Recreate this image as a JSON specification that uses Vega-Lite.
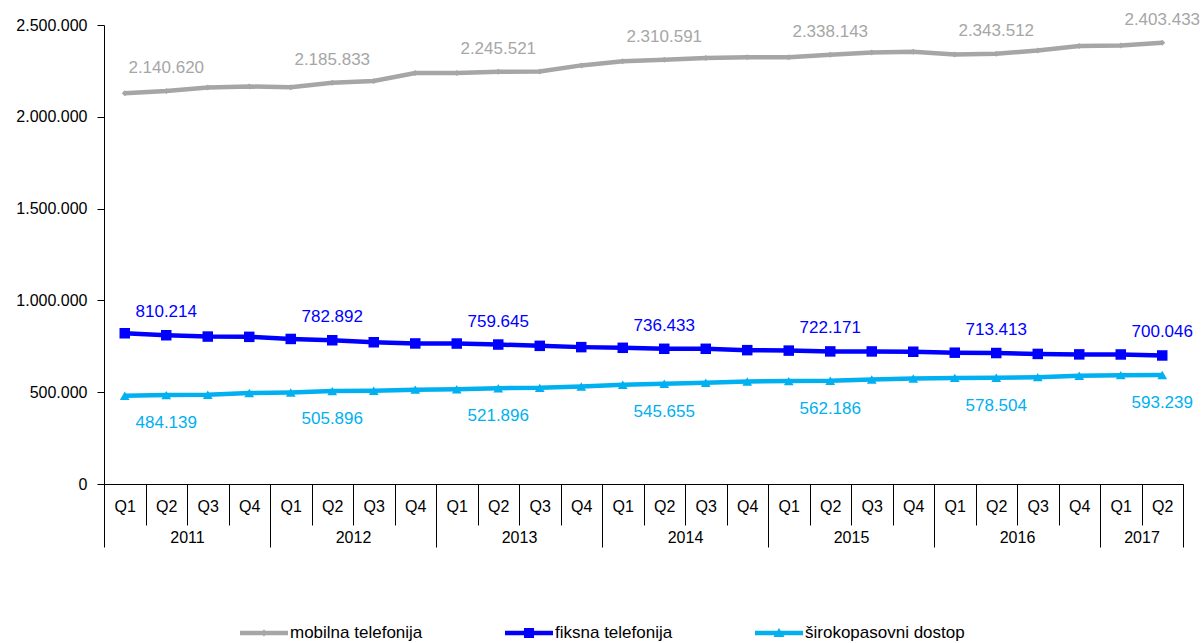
{
  "$schema": "https://vega.github.io/schema/vega-lite/v6.json",
  "autosize": "none",
  "padding": {"left": 104, "top": 25, "right": 18, "bottom": 159},
  "width": 1079,
  "height": 459,
  "background": "white",
  "config": {
    "font": "Liberation Sans",
    "view": {"stroke": null},
    "locale": {"number": {"decimal": ",", "thousands": ".", "grouping": [3], "currency": ["", " €"]}},
    "axis": {"labelFont": "Liberation Sans", "labelColor": "#000000", "domainColor": "#000000", "tickColor": "#000000", "grid": false, "title": null}
  },
  "data": {"values": [
    {"i":0,"s":"mobilna telefonija","v":2128000},{"i":1,"s":"mobilna telefonija","v":2140620},{"i":2,"s":"mobilna telefonija","v":2160000},{"i":3,"s":"mobilna telefonija","v":2165000},
    {"i":4,"s":"mobilna telefonija","v":2161000},{"i":5,"s":"mobilna telefonija","v":2185833},{"i":6,"s":"mobilna telefonija","v":2195000},{"i":7,"s":"mobilna telefonija","v":2238000},
    {"i":8,"s":"mobilna telefonija","v":2238000},{"i":9,"s":"mobilna telefonija","v":2245521},{"i":10,"s":"mobilna telefonija","v":2247000},{"i":11,"s":"mobilna telefonija","v":2280000},
    {"i":12,"s":"mobilna telefonija","v":2303000},{"i":13,"s":"mobilna telefonija","v":2310591},{"i":14,"s":"mobilna telefonija","v":2320000},{"i":15,"s":"mobilna telefonija","v":2325000},
    {"i":16,"s":"mobilna telefonija","v":2325000},{"i":17,"s":"mobilna telefonija","v":2338143},{"i":18,"s":"mobilna telefonija","v":2350000},{"i":19,"s":"mobilna telefonija","v":2354000},
    {"i":20,"s":"mobilna telefonija","v":2339000},{"i":21,"s":"mobilna telefonija","v":2343512},{"i":22,"s":"mobilna telefonija","v":2361000},{"i":23,"s":"mobilna telefonija","v":2385000},
    {"i":24,"s":"mobilna telefonija","v":2389000},{"i":25,"s":"mobilna telefonija","v":2403433},
    {"i":0,"s":"fiksna telefonija","v":821000},{"i":1,"s":"fiksna telefonija","v":810214},{"i":2,"s":"fiksna telefonija","v":803000},{"i":3,"s":"fiksna telefonija","v":801500},
    {"i":4,"s":"fiksna telefonija","v":790000},{"i":5,"s":"fiksna telefonija","v":782892},{"i":6,"s":"fiksna telefonija","v":772000},{"i":7,"s":"fiksna telefonija","v":765500},
    {"i":8,"s":"fiksna telefonija","v":765000},{"i":9,"s":"fiksna telefonija","v":759645},{"i":10,"s":"fiksna telefonija","v":752500},{"i":11,"s":"fiksna telefonija","v":745500},
    {"i":12,"s":"fiksna telefonija","v":741800},{"i":13,"s":"fiksna telefonija","v":736433},{"i":14,"s":"fiksna telefonija","v":736400},{"i":15,"s":"fiksna telefonija","v":729000},
    {"i":16,"s":"fiksna telefonija","v":726500},{"i":17,"s":"fiksna telefonija","v":722171},{"i":18,"s":"fiksna telefonija","v":722000},{"i":19,"s":"fiksna telefonija","v":720400},
    {"i":20,"s":"fiksna telefonija","v":715200},{"i":21,"s":"fiksna telefonija","v":713413},{"i":22,"s":"fiksna telefonija","v":708500},{"i":23,"s":"fiksna telefonija","v":706000},
    {"i":24,"s":"fiksna telefonija","v":705500},{"i":25,"s":"fiksna telefonija","v":700046},
    {"i":0,"s":"širokopasovni dostop","v":480500},{"i":1,"s":"širokopasovni dostop","v":484139},{"i":2,"s":"širokopasovni dostop","v":486000},{"i":3,"s":"širokopasovni dostop","v":495500},
    {"i":4,"s":"širokopasovni dostop","v":498700},{"i":5,"s":"širokopasovni dostop","v":505896},{"i":6,"s":"širokopasovni dostop","v":507700},{"i":7,"s":"širokopasovni dostop","v":514000},
    {"i":8,"s":"širokopasovni dostop","v":516500},{"i":9,"s":"širokopasovni dostop","v":521896},{"i":10,"s":"širokopasovni dostop","v":523700},{"i":11,"s":"širokopasovni dostop","v":530900},
    {"i":12,"s":"širokopasovni dostop","v":540300},{"i":13,"s":"širokopasovni dostop","v":545655},{"i":14,"s":"širokopasovni dostop","v":551000},{"i":15,"s":"širokopasovni dostop","v":558200},
    {"i":16,"s":"širokopasovni dostop","v":560400},{"i":17,"s":"širokopasovni dostop","v":562186},{"i":18,"s":"širokopasovni dostop","v":569400},{"i":19,"s":"širokopasovni dostop","v":574800},
    {"i":20,"s":"širokopasovni dostop","v":578000},{"i":21,"s":"širokopasovni dostop","v":578504},{"i":22,"s":"širokopasovni dostop","v":582100},{"i":23,"s":"širokopasovni dostop","v":589300},
    {"i":24,"s":"širokopasovni dostop","v":592900},{"i":25,"s":"širokopasovni dostop","v":593239}
  ]},
  "encoding": {
    "y": {"field": "v", "type": "quantitative",
      "scale": {"domain": [0, 2500000], "nice": false, "zero": true},
      "axis": {"values": [0, 500000, 1000000, 1500000, 2000000, 2500000], "format": ",d", "labelFontSize": 16, "tickSize": 7, "labelPadding": 10, "title": null}}
  },
  "layer": [
    {
      "mark": {"type": "line", "strokeWidth": 4.5},
      "encoding": {
        "x": {"field": "i", "type": "quantitative", "scale": {"domain": [-0.5, 25.5], "nice": false, "zero": false},
          "axis": {"orient": "bottom", "values": [0,1,2,3,4,5,6,7,8,9,10,11,12,13,14,15,16,17,18,19,20,21,22,23,24,25],
            "labelExpr": "'Q' + ((datum.value % 4) + 1)", "ticks": false, "tickSize": 0, "labelPadding": 14, "labelFontSize": 16, "domain": true, "labelFlush": false, "labelOverlap": false}},
        "color": {"field": "s", "type": "nominal",
          "scale": {"domain": ["mobilna telefonija", "fiksna telefonija", "širokopasovni dostop"], "range": ["#A6A6A6", "#0000FF", "#00B0F0"]},
          "legend": {"orient": "none", "legendX": 136, "legendY": 584, "direction": "horizontal", "title": null,
            "symbolType": "stroke", "symbolSize": 2304, "symbolStrokeWidth": 0, "labelFontSize": 17, "labelFont": "Liberation Sans", "labelColor": "#000000", "labelOffset": 2, "columnPadding": 82,
            "encode": {"symbols": {"update": {
              "fill": {"scale": "color", "field": "value"},
              "stroke": {"value": "transparent"},
              "strokeWidth": {"value": 0},
              "shape": [
                {"test": "datum.value === 'fiksna telefonija'", "value": "M-1,-0.094L1,-0.094L1,0.094L-1,0.094ZM-0.21,-0.21L0.21,-0.21L0.21,0.21L-0.21,0.21Z"},
                {"test": "datum.value === 'širokopasovni dostop'", "value": "M-1,-0.094L1,-0.094L1,0.094L-1,0.094ZM0,-0.21L0.23,0.17L-0.23,0.17Z"},
                {"value": "M-1,-0.094L1,-0.094L1,0.094L-1,0.094ZM0,-0.15L0.15,0L0,0.15L-0.15,0Z"}
              ]
            }}}}}
      }
    },
    {
      "transform": [{"filter": "datum.s == 'mobilna telefonija'"}],
      "mark": {"type": "point", "filled": true, "opacity": 1, "shape": "diamond", "size": 36, "color": "#A6A6A6"},
      "encoding": {
        "x": {"field": "i", "type": "quantitative", "scale": {"domain": [-0.5, 25.5], "nice": false, "zero": false},
          "axis": {"orient": "bottom", "values": [-0.5,0.5,1.5,2.5,3.5,4.5,5.5,6.5,7.5,8.5,9.5,10.5,11.5,12.5,13.5,14.5,15.5,16.5,17.5,18.5,19.5,20.5,21.5,22.5,23.5,24.5,25.5],
            "labels": false, "ticks": true, "tickSize": 41, "domain": false}}
      }
    },
    {
      "transform": [{"filter": "datum.s == 'fiksna telefonija'"}],
      "mark": {"type": "point", "filled": true, "opacity": 1, "shape": "square", "size": 110, "color": "#0000FF"},
      "encoding": {
        "x": {"field": "i", "type": "quantitative", "scale": {"domain": [-0.5, 25.5], "nice": false, "zero": false}, "axis": null}
      }
    },
    {
      "transform": [{"filter": "datum.s == 'širokopasovni dostop'"}],
      "mark": {"type": "point", "filled": true, "opacity": 1, "shape": "triangle-up", "size": 95, "color": "#00B0F0"},
      "encoding": {
        "x": {"field": "i", "type": "quantitative", "scale": {"domain": [-0.5, 25.5], "nice": false, "zero": false}, "axis": null}
      }
    },
    {
      "transform": [{"filter": "datum.s == 'mobilna telefonija' && datum.i % 4 == 1"}],
      "mark": {"type": "text", "fontSize": 17, "color": "#A6A6A6", "dy": -23, "baseline": "middle", "align": "center"},
      "encoding": {
        "x": {"field": "i", "type": "quantitative", "scale": {"domain": [-0.5, 25.5], "nice": false, "zero": false},
          "axis": {"orient": "bottom", "values": [-0.5, 3.5, 7.5, 11.5, 15.5, 19.5, 23.5, 25.5], "labels": false, "ticks": true, "tickSize": 63, "domain": false}},
        "text": {"field": "v", "type": "quantitative", "format": ",d"}
      }
    },
    {
      "transform": [{"filter": "datum.s == 'fiksna telefonija' && datum.i % 4 == 1"}],
      "mark": {"type": "text", "fontSize": 17, "color": "#0000FF", "dy": -23, "baseline": "middle", "align": "center"},
      "encoding": {
        "x": {"field": "i", "type": "quantitative", "scale": {"domain": [-0.5, 25.5], "nice": false, "zero": false},
          "axis": {"orient": "bottom", "values": [1.5, 5.5, 9.5, 13.5, 17.5, 21.5, 24.5], "labelExpr": "2011 + floor(datum.value / 4)",
            "ticks": false, "tickSize": 0, "labelPadding": 45, "labelFontSize": 16, "domain": false, "labelFlush": false, "labelOverlap": false}},
        "text": {"field": "v", "type": "quantitative", "format": ",d"}
      }
    },
    {
      "transform": [{"filter": "datum.s == 'širokopasovni dostop' && datum.i % 4 == 1"}],
      "mark": {"type": "text", "fontSize": 17, "color": "#00B0F0", "dy": 28, "baseline": "middle", "align": "center"},
      "encoding": {
        "x": {"field": "i", "type": "quantitative", "scale": {"domain": [-0.5, 25.5], "nice": false, "zero": false}, "axis": null},
        "text": {"field": "v", "type": "quantitative", "format": ",d"}
      }
    }
  ],
  "resolve": {"axis": {"x": "independent"}}
}
